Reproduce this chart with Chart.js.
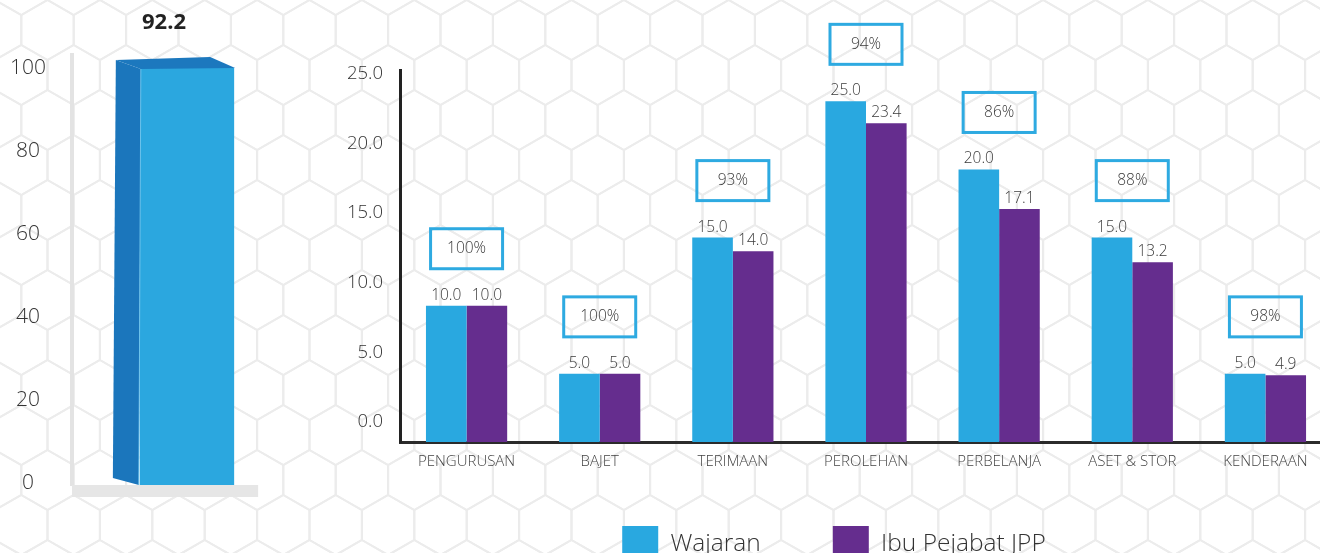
<!DOCTYPE html>
<html><head><meta charset="utf-8">
<script src="https://cdn.jsdelivr.net/npm/chart.js@4.4.1/dist/chart.umd.min.js"></script>
<style>
html,body{margin:0;padding:0;background:#fff;overflow:hidden;}
#wrap{position:relative;width:1320px;height:553px;overflow:hidden;background:#fff;}
canvas{position:absolute;top:0;}
#bg{left:0;}
#left{left:0;}
#right{left:336px;}
</style></head><body>
<div id="wrap">
<canvas id="bg" width="1320" height="553"></canvas>
<canvas id="left" width="310" height="553"></canvas>
<canvas id="right" width="1004" height="580"></canvas>
</div>
<script>
// ---- data ----
const overallLabels = [''];
const overallValues = [92.2];
const overallTicks = [0, 20, 40, 60, 80, 100];

const categories = ['PENGURUSAN', 'BAJET', 'TERIMAAN', 'PEROLEHAN', 'PERBELANJA', 'ASET & STOR', 'KENDERAAN'];
const wajaran = [10.0, 5.0, 15.0, 25.0, 20.0, 15.0, 5.0];
const ibuPejabat = [10.0, 5.0, 14.0, 23.4, 17.1, 13.2, 4.9];
const percentages = [100, 100, 93, 94, 86, 88, 98];
const yTicks = [0, 5, 10, 15, 20, 25];
const seriesNames = ['Wajaran', 'Ibu Pejabat JPP'];

const FONT = "'Open Sans', 'Lato', sans-serif";
const BLUE = '#29a8e0', PURPLE = '#652d8e';

// ---- hexagon background ----
(function(){
  const c = document.getElementById('bg').getContext('2d');
  c.strokeStyle = '#ececec'; c.lineWidth = 2;
  const hw = 26.2;
  for (let r = -1; r < 14; r++) {
    const cy = 30 + 45 * r;
    for (let k = -2; k < 28; k++) {
      const cx = 47.5 + 52.4 * k + (r % 2 ? 26.2 : 0);
      c.beginPath();
      c.moveTo(cx, cy - 30); c.lineTo(cx + hw, cy - 15); c.lineTo(cx + hw, cy + 15);
      c.lineTo(cx, cy + 30); c.lineTo(cx - hw, cy + 15); c.lineTo(cx - hw, cy - 15);
      c.closePath(); c.stroke();
    }
  }
})();

// ---- left 3D bar ----
const bar3d = {
  id: 'bar3d',
  afterDatasetsDraw(chart) {
    const ctx = chart.ctx;
    const el = chart.getDatasetMeta(0).data[0];
    const {x, y, base, width} = el.getProps(['x', 'y', 'base', 'width'], true);
    const l = x - width / 2, r = x + width / 2;
    ctx.save();
    ctx.fillStyle = '#e6e6e6';
    ctx.fillRect(chart.chartArea.left, base, r + 24 - chart.chartArea.left, 12);
    ctx.fillStyle = '#1b76bc';
    ctx.beginPath();
    ctx.moveTo(l - 24, y - 8); ctx.lineTo(l + 1, y + 1); ctx.lineTo(l - 1, base);
    ctx.lineTo(l - 27, base - 7); ctx.closePath(); ctx.fill();
    ctx.fillStyle = '#1c78be';
    ctx.beginPath();
    ctx.moveTo(l - 24, y - 8); ctx.lineTo(r - 24, y - 11); ctx.lineTo(r + 1, y);
    ctx.lineTo(l + 1, y + 1); ctx.closePath(); ctx.fill();
    ctx.strokeStyle = '#6cc3ec'; ctx.lineWidth = 1;
    ctx.beginPath(); ctx.moveTo(l + 1, y + 1); ctx.lineTo(l - 1, base); ctx.stroke();
    ctx.fillStyle = '#222';
    ctx.font = "700 22px " + FONT;
    ctx.textAlign = 'center'; ctx.textBaseline = 'middle';
    ctx.fillText(overallValues[0].toFixed(1), x - 23, y - 45);
    ctx.restore();
  }
};

new Chart(document.getElementById('left'), {
  type: 'bar',
  data: {labels: overallLabels, datasets: [{data: overallValues, backgroundColor: '#2ba7df', barPercentage: 0.41, categoryPercentage: 1}]},
  options: {
    responsive: false, animation: false,
    layout: {padding: {top: 55, bottom: 68, right: 8, left: 0}},
    plugins: {legend: {display: false}, tooltip: {enabled: false}},
    scales: {
      x: {display: false},
      y: {display: false, min: 0, max: 95.07},
      yl: {
        type: 'linear', position: 'left', min: -0.48, max: 103.1,
        afterBuildTicks: a => { a.ticks = overallTicks.map(v => ({value: v})); },
        afterFit: a => { a.width = 72; },
        grid: {display: false, drawTicks: false},
        border: {display: true, color: '#e3e3e3', width: 4, dash: [5, 4]},
        ticks: {crossAlign: 'center', padding: 26, color: '#333', font: {family: FONT, size: 21, weight: 300}}
      }
    }
  },
  plugins: [bar3d]
});

// ---- right grouped bars ----
const labelsPlugin = {
  id: 'labelsPlugin',
  afterDatasetsDraw(chart) {
    const ctx = chart.ctx;
    ctx.save();
    ctx.fillStyle = '#3a3a3a';
    ctx.font = "300 15.5px " + FONT;
    ctx.textAlign = 'center'; ctx.textBaseline = 'alphabetic';
    chart.data.datasets.forEach((ds, i) => {
      chart.getDatasetMeta(i).data.forEach((el, j) => {
        ctx.fillText(ds.data[j].toFixed(1), el.x, el.y - 6);
      });
    });
    const m0 = chart.getDatasetMeta(0).data, m1 = chart.getDatasetMeta(1).data;
    ctx.font = "300 15.5px " + FONT;
    ctx.textBaseline = 'middle';
    percentages.forEach((p, j) => {
      const cx = (m0[j].x + m1[j].x) / 2;
      const cy = Math.min(m0[j].y, m1[j].y) - 57;
      ctx.strokeStyle = '#2eaae1'; ctx.lineWidth = 3;
      ctx.strokeRect(cx - 36, cy - 20, 72, 40);
      ctx.fillText(p + '%', cx, cy);
    });
    ctx.restore();
  }
};

new Chart(document.getElementById('right'), {
  type: 'bar',
  data: {
    labels: categories,
    datasets: [
      {label: seriesNames[0], data: wajaran, backgroundColor: BLUE},
      {label: seriesNames[1], data: ibuPejabat, backgroundColor: PURPLE}
    ]
  },
  options: {
    responsive: false, animation: false,
    datasets: {bar: {barPercentage: 1, categoryPercentage: 0.61}},
    layout: {padding: {top: 70, right: 8, bottom: 8, left: 0}},
    plugins: {
      tooltip: {enabled: false},
      legend: {
        position: 'bottom',
        labels: {boxWidth: 36, boxHeight: 36, padding: 72, color: '#333', font: {family: FONT, size: 24.5, weight: 300}}
      }
    },
    scales: {
      x: {
        grid: {display: false, drawTicks: false},
        border: {color: '#2b2b2b', width: 3},
        ticks: {autoSkip: false, maxRotation: 0, mirror: true, padding: -29, color: '#444', font: {family: FONT, size: 15, weight: 300}},
        afterFit: a => { a.height = 12; }
      },
      y: {display: false, min: 0, max: 27.3},
      yl: {
        type: 'linear', position: 'left', min: -1.437, max: 25.29,
        afterBuildTicks: a => { a.ticks = yTicks.map(v => ({value: v})); },
        afterFit: a => { a.width = 64; },
        grid: {display: false, drawTicks: false},
        border: {color: '#222', width: 3},
        ticks: {padding: 17, color: '#333', font: {family: FONT, size: 18.5, weight: 300}, callback: v => Number(v).toFixed(1)}
      }
    }
  },
  plugins: [labelsPlugin]
});
</script>
</body></html>
